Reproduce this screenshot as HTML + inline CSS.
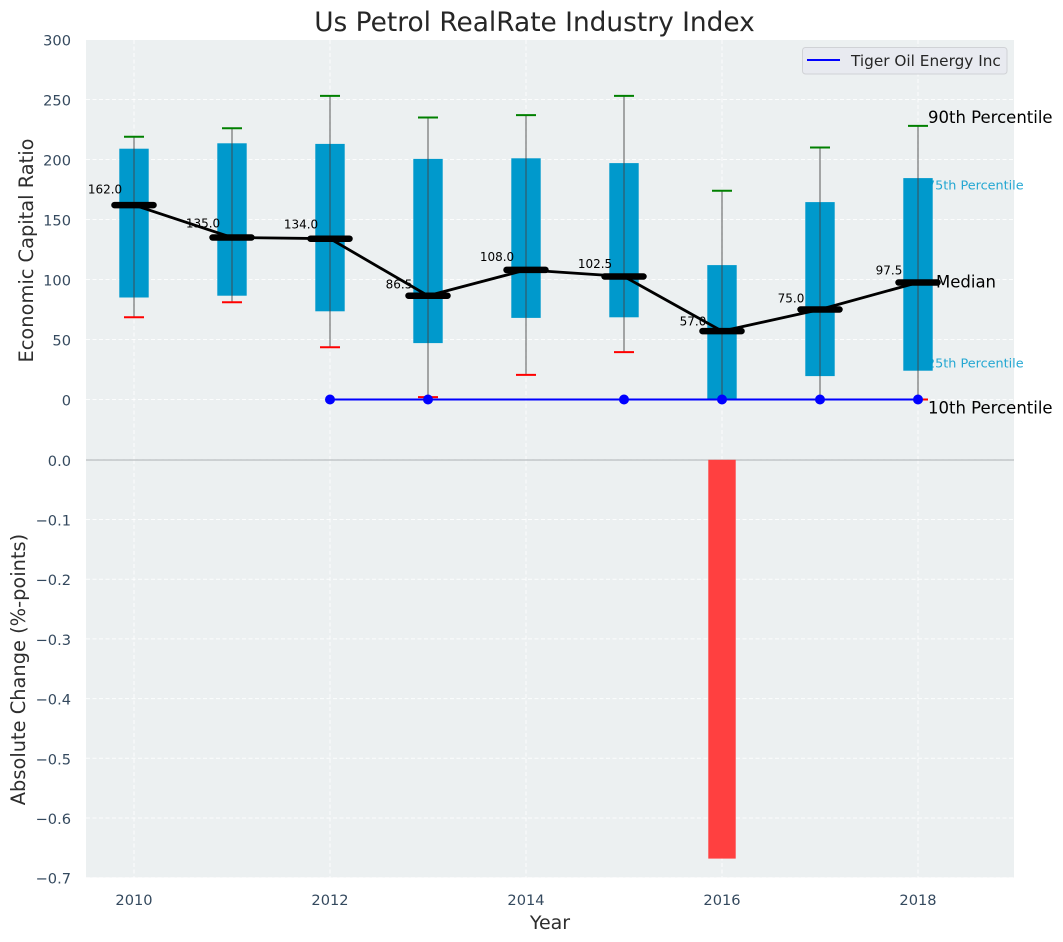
<!DOCTYPE html>
<html lang="en">
<head>
<meta charset="utf-8">
<title>Us Petrol RealRate Industry Index</title>
<style>
html,body{margin:0;padding:0;background:#fff;}
svg{display:block;font-family:"DejaVu Sans","Liberation Sans",sans-serif;}
</style>
</head>
<body>
<svg id="chart" width="1063" height="942" viewBox="0 0 1063 942" xmlns="http://www.w3.org/2000/svg">
<rect x="0" y="0" width="1063" height="942" fill="#ffffff"/>
<rect x="86" y="40" width="928" height="420" fill="#ecf0f1"/>
<rect x="86" y="460" width="928" height="417.5" fill="#ecf0f1"/>
<g id="grid"></g>
<g id="ticks"></g>
<g id="annotations"></g>
<g id="marks"></g>
<text x="534.5" y="31" font-size="26.4" fill="#262626" text-anchor="middle">Us Petrol RealRate Industry Index</text>
<text x="0" y="0" transform="translate(33,250.5) rotate(-90)" font-size="19.4" fill="#2e2e2e" text-anchor="middle">Economic Capital Ratio</text>
<text x="0" y="0" transform="translate(25,669.5) rotate(-90)" font-size="19.4" fill="#2e2e2e" text-anchor="middle">Absolute Change (%-points)</text>
<text x="550" y="929" font-size="19" fill="#2e2e2e" text-anchor="middle">Year</text>
<g>
<rect x="802.5" y="47.5" width="204.5" height="26.5" rx="3" ry="3" fill="#e8eaf0" stroke="#d0d2d6" stroke-width="1"/>
<line x1="807" y1="60" x2="840" y2="60" stroke="#0000ff" stroke-width="2"/>
<text x="851" y="66" font-size="15.3" fill="#262626">Tiger Oil Energy Inc</text>
</g>
</svg>
<script>
const years = [2010, 2011, 2012, 2013, 2014, 2015, 2016, 2017, 2018];
const p90 = [219, 226, 253, 235, 237, 253, 174, 210, 228];
const p75 = [209, 213.5, 213, 200.5, 201, 197, 112, 164.5, 184.5];
const medians = [162, 135, 134, 86.5, 108, 102.5, 57, 75, 97.5];
const p25 = [85, 86.5, 73.5, 47, 68, 68.5, 0, 19.5, 24];
const p10 = [68.5, 81, 43.5, 2, 20.5, 39.5, 0, 0, 0];
const tigerYears = [2012, 2013, 2015, 2016, 2017, 2018];
const tigerValues = [0, 0, 0, 0, 0, 0];
const changeYears = [2016];
const changeValues = [-0.668];
const xTicks = [2010, 2012, 2014, 2016, 2018];
const topYTicks = [0, 50, 100, 150, 200, 250, 300];
const bottomYTicks = [0, -0.1, -0.2, -0.3, -0.4, -0.5, -0.6, -0.7];

const NS = 'http://www.w3.org/2000/svg';
function xAxis(v) { return 134 + (v - 2010) * 98; }
function yTop(v) { return 399.5 - v * 1.2; }
function yChange(v) { return 459.8 - v * 597; }
function make(parent, tag, props) {
  const el = document.createElementNS(NS, tag);
  for (const k in props) { el.setAttribute(k, props[k]); }
  parent.appendChild(el);
  return el;
}
const grid = document.getElementById('grid');
const ticks = document.getElementById('ticks');
const notes = document.getElementById('annotations');
const marks = document.getElementById('marks');
const gridStyle = { stroke: '#ffffff', 'stroke-width': 1, 'stroke-dasharray': '4 2.5', 'stroke-opacity': 0.85 };

xTicks.forEach(function (t) {
  const a = make(grid, 'line', Object.assign({ x1: xAxis(t), x2: xAxis(t), y1: 40, y2: 460 }, gridStyle));
  
  
  const b = make(grid, 'line', Object.assign({ x1: xAxis(t), x2: xAxis(t), y1: 460, y2: 877.5 }, gridStyle));
  
  
  const label = make(ticks, 'text', { x: xAxis(t), y: 905, 'font-size': 14.6, fill: '#34495e', 'text-anchor': 'middle' });
  label.textContent = String(t);
  
  
});
topYTicks.forEach(function (t) {
  const g = make(grid, 'line', Object.assign({ x1: 86, x2: 1014, y1: yTop(t), y2: yTop(t) }, gridStyle));
  
  
  const label = make(ticks, 'text', { x: 71, y: yTop(t) + 6, 'font-size': 14.6, fill: '#34495e', 'text-anchor': 'end' });
  label.textContent = String(t);
  
  
});
bottomYTicks.forEach(function (t) {
  const g = make(grid, 'line', Object.assign({ x1: 86, x2: 1014, y1: yChange(t), y2: yChange(t) }, gridStyle));
  
  
  const label = make(ticks, 'text', { x: 71, y: yChange(t) + 6, 'font-size': 14.6, fill: '#34495e', 'text-anchor': 'end' });
  label.textContent = (t < 0 ? '\u2212' : '') + Math.abs(t).toFixed(1);
  
  
});

const lastIndex = years.length - 1;
const lastX = xAxis(years[lastIndex]);
const label90 = make(notes, 'text', { x: lastX + 10, y: yTop(p90[lastIndex]) - 3, 'font-size': 16.5, fill: '#000000' });
label90.textContent = '90th Percentile';


const label75 = make(notes, 'text', { x: lastX + 9, y: yTop(p75[lastIndex]) + 11.5, 'font-size': 12.8, fill: '#009acd', 'fill-opacity': 0.85 });
label75.textContent = '75th Percentile';


const labelMedian = make(notes, 'text', { x: lastX + 18, y: yTop(medians[lastIndex]) + 5, 'font-size': 16.5, fill: '#000000' });
labelMedian.textContent = 'Median';


const label25 = make(notes, 'text', { x: lastX + 9, y: yTop(p25[lastIndex]) - 3, 'font-size': 12.8, fill: '#009acd', 'fill-opacity': 0.85 });
label25.textContent = '25th Percentile';


const label10 = make(notes, 'text', { x: lastX + 10, y: yTop(p10[lastIndex]) + 14, 'font-size': 16.5, fill: '#000000' });
label10.textContent = '10th Percentile';



years.forEach(function (y, i) {
  const cx = xAxis(y);
  const box = make(marks, 'rect', { x: cx - 14.7, width: 29.4, y: yTop(p75[i]), height: yTop(p25[i]) - yTop(p75[i]), fill: '#0099cc' });
  
  
  const whisker = make(marks, 'line', { x1: cx, x2: cx, y1: yTop(p90[i]), y2: yTop(p10[i]), stroke: '#444444', 'stroke-width': 1.3, 'stroke-opacity': 0.68 });
  
  
  const capHigh = make(marks, 'line', { x1: cx - 10, x2: cx + 10, y1: yTop(p90[i]), y2: yTop(p90[i]), stroke: '#008000', 'stroke-width': 2 });
  
  
  const capLow = make(marks, 'line', { x1: cx - 10, x2: cx + 10, y1: yTop(p10[i]), y2: yTop(p10[i]), stroke: '#ff0000', 'stroke-width': 2 });
  
  
});

years.forEach(function (y, i) {
  const label = make(marks, 'text', { x: xAxis(y) - 29, y: yTop(medians[i] * 1.048 + 5.7) + 4.4, 'font-size': 12, fill: '#000000', 'text-anchor': 'middle' });
  label.textContent = medians[i].toFixed(1);
  
  
});

const trend = make(marks, 'polyline', {
  points: years.map(function (y, i) { return xAxis(y) + ',' + yTop(medians[i]); }).join(' '),
  fill: 'none', stroke: '#000000', 'stroke-width': 2.8
});



years.forEach(function (y, i) {
  const cx = xAxis(y);
  const bar = make(marks, 'line', { x1: cx - 19.5, x2: cx + 19.5, y1: yTop(medians[i]), y2: yTop(medians[i]), stroke: '#000000', 'stroke-width': 6.5, 'stroke-linecap': 'round' });
  
  
});

const tiger = make(marks, 'polyline', {
  points: tigerYears.map(function (y, i) { return xAxis(y) + ',' + yTop(tigerValues[i]); }).join(' '),
  fill: 'none', stroke: '#0000ff', 'stroke-width': 2
});


tigerYears.forEach(function (y, i) {
  const dot = make(marks, 'circle', { cx: xAxis(y), cy: yTop(tigerValues[i]), r: 5, fill: '#0000ff' });
  
  
});

const zeroLine = make(marks, 'line', { x1: 86, x2: 1014, y1: 460, y2: 460, stroke: '#c2c6c8', 'stroke-width': 1.4 });


changeYears.forEach(function (y, i) {
  const rect = make(marks, 'rect', { x: xAxis(y) - 13.7, width: 27.4, y: yChange(0), height: yChange(changeValues[i]) - yChange(0), fill: '#ff4040' });
  
  
});
</script>
</body>
</html>
